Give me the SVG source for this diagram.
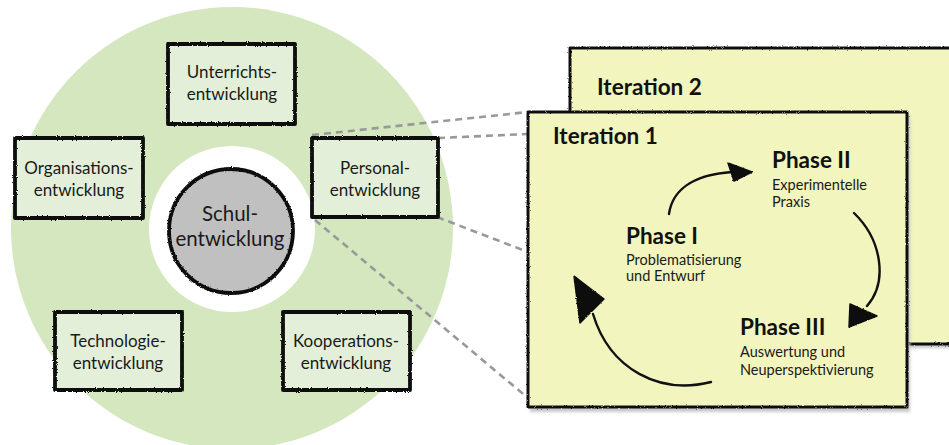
<svg xmlns="http://www.w3.org/2000/svg" width="949" height="445" viewBox="0 0 949 445">
  <defs>
    <filter id="rough" x="-5%" y="-5%" width="110%" height="110%">
      <feTurbulence type="fractalNoise" baseFrequency="0.8" numOctaves="2" seed="3" result="noise"/>
      <feDisplacementMap in="SourceGraphic" in2="noise" scale="2.4" xChannelSelector="R" yChannelSelector="G"/>
    </filter>
    <filter id="shadow" x="-5%" y="-5%" width="115%" height="115%">
      <feGaussianBlur stdDeviation="1.5"/>
    </filter>
  </defs>
  <style>
    .area { fill: #d4e7bf; }
    .gap { fill: #ffffff; }
    .box { fill: #e3efd8; }
    .edge { fill: none; stroke: #111; stroke-width: 3.8; stroke-linejoin: round; filter: url(#rough); }
    .card-edge { fill: none; stroke: #111; stroke-width: 3; stroke-linejoin: round; filter: url(#rough); }
    .card { fill: #f2f5bd; }
    .card-shadow { fill: #c8c8c8; filter: url(#shadow); }
    .label { font-family: Lato, "Noto Sans", sans-serif; font-size: 17px; fill: #1a1a1a; text-anchor: middle; }
    .core { font-family: Lato, "Noto Sans", sans-serif; font-size: 20.5px; fill: #1a1a1a; text-anchor: middle; }
    .title { font-family: Lato, "Noto Sans", sans-serif; font-size: 22.5px; font-weight: bold; fill: #111; }
    .note { font-family: Lato, "Noto Sans", sans-serif; font-size: 14.5px; fill: #1a1a1a; }
    .link { fill: none; stroke: #999; stroke-width: 2.6; stroke-dasharray: 7 5; }
    .flow { fill: none; stroke: #111; stroke-width: 2.4; stroke-linecap: round; }
    .head { fill: #111; stroke: #111; stroke-width: 1.5; stroke-linejoin: round; filter: url(#rough); }
  </style>

  <!-- background field of development areas -->
  <circle class="area" cx="232" cy="228" r="221"/>
  <circle class="gap" cx="232" cy="229" r="83"/>

  <!-- dashed links from Personalentwicklung to the iterations -->
  <g id="connectors">
    <line class="link" x1="312" y1="135" x2="528" y2="112"/>
    <line class="link" x1="438" y1="138" x2="528" y2="134"/>
    <line class="link" x1="437" y1="217" x2="528" y2="252"/>
    <line class="link" x1="315" y1="220" x2="528" y2="398"/>
  </g>

  <g id="schulentwicklung">
    <circle cx="231" cy="231" r="62" fill="#c0c0c0"/>
    <circle class="edge" cx="231" cy="231" r="62"/>
    <text class="core" x="230" y="221">Schul-</text>
    <text class="core" x="230" y="246">entwicklung</text>
  </g>

  <g id="unterrichtsentwicklung">
    <rect class="box" x="168" y="44" width="127" height="80"/>
    <rect class="edge" x="168" y="44" width="127" height="80"/>
    <text class="label" x="232" y="78">Unterrichts-</text>
    <text class="label" x="232" y="100">entwicklung</text>
  </g>

  <g id="organisationsentwicklung">
    <rect class="box" x="15" y="138" width="128" height="80"/>
    <rect class="edge" x="15" y="138" width="128" height="80"/>
    <text class="label" x="79" y="174">Organisations-</text>
    <text class="label" x="79" y="196">entwicklung</text>
  </g>

  <g id="personalentwicklung">
    <rect class="box" x="312" y="138" width="126" height="79"/>
    <rect class="edge" x="312" y="138" width="126" height="79"/>
    <text class="label" x="375" y="174">Personal-</text>
    <text class="label" x="375" y="196">entwicklung</text>
  </g>

  <g id="technologieentwicklung">
    <rect class="box" x="55" y="312" width="127" height="78"/>
    <rect class="edge" x="55" y="312" width="127" height="78"/>
    <text class="label" x="118" y="347">Technologie-</text>
    <text class="label" x="118" y="369">entwicklung</text>
  </g>

  <g id="kooperationsentwicklung">
    <rect class="box" x="283" y="312" width="127" height="78"/>
    <rect class="edge" x="283" y="312" width="127" height="78"/>
    <text class="label" x="346" y="347">Kooperations-</text>
    <text class="label" x="346" y="369">entwicklung</text>
  </g>

  <g id="iteration2">
    <rect class="card-shadow" x="572" y="52" width="380" height="296"/>
    <rect class="card" x="570" y="48" width="382" height="296"/>
    <rect class="card-edge" x="570" y="48" width="382" height="296"/>
    <text class="title" x="597" y="95">Iteration 2</text>
  </g>

  <g id="iteration1">
    <rect class="card-shadow" x="530" y="116" width="380" height="296"/>
    <rect class="card" x="528" y="112" width="379" height="295"/>
    <rect class="card-edge" x="528" y="112" width="379" height="295"/>
    <text class="title" x="553" y="144">Iteration 1</text>
  </g>

  <g id="phase1">
    <text class="title" x="626" y="244">Phase I</text>
    <text class="note" x="626" y="265">Problematisierung</text>
    <text class="note" x="626" y="281">und Entwurf</text>
  </g>

  <g id="phase2">
    <text class="title" x="772" y="168">Phase II</text>
    <text class="note" x="772" y="190">Experimentelle</text>
    <text class="note" x="772" y="207">Praxis</text>
  </g>

  <g id="phase3">
    <text class="title" x="740" y="335">Phase III</text>
    <text class="note" x="740" y="357">Auswertung und</text>
    <text class="note" x="740" y="375">Neuperspektivierung</text>
  </g>

  <!-- cycle arrows between the phases -->
  <g id="cycle">
    <path class="flow" d="M669,214 C672,192 690,175 732,172"/>
    <polygon class="head" points="728,163 752,172 734,181"/>
    <path class="flow" d="M854,213 C882,240 888,282 867,306"/>
    <polygon class="head" points="850,304 877,316 849,327"/>
    <path class="flow" d="M711,382 C660,395 610,370 593,314"/>
    <polygon class="head" points="574,276 604,299 580,323"/>
  </g>
</svg>
